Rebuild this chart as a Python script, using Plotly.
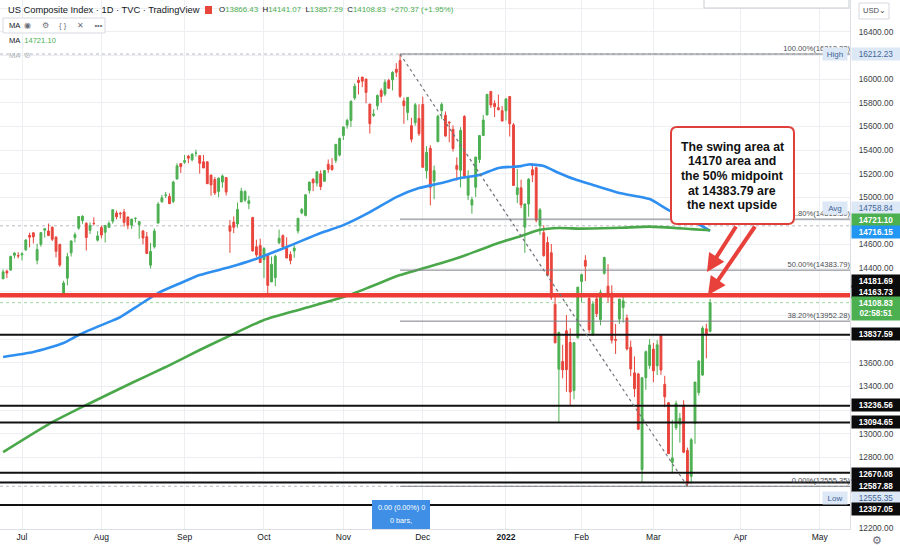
import plotly.graph_objects as go

# ---------------- DATA ----------------
dates = [
    "2021-06-24", "2021-06-25", "2021-06-28", "2021-06-29", "2021-06-30",
    "2021-07-01", "2021-07-02", "2021-07-06", "2021-07-07", "2021-07-08", "2021-07-09",
    "2021-07-12", "2021-07-13", "2021-07-14", "2021-07-15", "2021-07-16",
    "2021-07-19", "2021-07-20", "2021-07-21", "2021-07-22", "2021-07-23",
    "2021-07-26", "2021-07-27", "2021-07-28", "2021-07-29", "2021-07-30",
    "2021-08-02", "2021-08-03", "2021-08-04", "2021-08-05", "2021-08-06",
    "2021-08-09", "2021-08-10", "2021-08-11", "2021-08-12", "2021-08-13",
    "2021-08-16", "2021-08-17", "2021-08-18", "2021-08-19", "2021-08-20",
    "2021-08-23", "2021-08-24", "2021-08-25", "2021-08-26", "2021-08-27",
    "2021-08-30", "2021-08-31",
    "2021-09-01", "2021-09-02", "2021-09-03", "2021-09-07", "2021-09-08",
    "2021-09-09", "2021-09-10", "2021-09-13", "2021-09-14", "2021-09-15",
    "2021-09-16", "2021-09-17", "2021-09-20", "2021-09-21", "2021-09-22",
    "2021-09-23", "2021-09-24", "2021-09-27", "2021-09-28", "2021-09-29", "2021-09-30",
    "2021-10-01", "2021-10-04", "2021-10-05", "2021-10-06", "2021-10-07", "2021-10-08",
    "2021-10-11", "2021-10-12", "2021-10-13", "2021-10-14", "2021-10-15",
    "2021-10-18", "2021-10-19", "2021-10-20", "2021-10-21", "2021-10-22",
    "2021-10-25", "2021-10-26", "2021-10-27", "2021-10-28", "2021-10-29",
    "2021-11-01", "2021-11-02", "2021-11-03", "2021-11-04", "2021-11-05",
    "2021-11-08", "2021-11-09", "2021-11-10", "2021-11-11", "2021-11-12",
    "2021-11-15", "2021-11-16", "2021-11-17", "2021-11-18", "2021-11-19",
    "2021-11-22", "2021-11-23", "2021-11-24", "2021-11-26", "2021-11-29", "2021-11-30",
    "2021-12-01", "2021-12-02", "2021-12-03", "2021-12-06", "2021-12-07",
    "2021-12-08", "2021-12-09", "2021-12-10", "2021-12-13", "2021-12-14",
    "2021-12-15", "2021-12-16", "2021-12-17", "2021-12-20", "2021-12-21",
    "2021-12-22", "2021-12-23", "2021-12-27", "2021-12-28", "2021-12-29",
    "2021-12-30", "2021-12-31",
    "2022-01-03", "2022-01-04", "2022-01-05", "2022-01-06", "2022-01-07",
    "2022-01-10", "2022-01-11", "2022-01-12", "2022-01-13", "2022-01-14",
    "2022-01-18", "2022-01-19", "2022-01-20", "2022-01-21", "2022-01-24",
    "2022-01-25", "2022-01-26", "2022-01-27", "2022-01-28", "2022-01-31",
    "2022-02-01", "2022-02-02", "2022-02-03", "2022-02-04", "2022-02-07",
    "2022-02-08", "2022-02-09", "2022-02-10", "2022-02-11", "2022-02-14",
    "2022-02-15", "2022-02-16", "2022-02-17", "2022-02-18", "2022-02-22",
    "2022-02-23", "2022-02-24", "2022-02-25", "2022-02-28",
    "2022-03-01", "2022-03-02", "2022-03-03", "2022-03-04", "2022-03-07",
    "2022-03-08", "2022-03-09", "2022-03-10", "2022-03-11", "2022-03-14",
    "2022-03-15", "2022-03-16", "2022-03-17", "2022-03-18", "2022-03-21", "2022-03-22",
]

open_ = [
    14311, 14375, 14385, 14510, 14507,
    14513, 14556, 14678, 14700, 14467, 14602, 14722, 14715, 14746, 14663, 14601,
    14190, 14316, 14530, 14659, 14739, 14803, 14780, 14720, 14780, 14637,
    14744, 14704, 14746, 14798, 14867, 14865, 14876, 14834, 14764, 14821,
    14770, 14716, 14666, 14426, 14581, 14782, 14962, 15017, 15007, 14965, 15155, 15285,
    15297, 15348, 15317, 15373, 15352, 15300, 15300, 15188, 15150, 15050,
    15129, 15167, 14758, 14790, 14774, 14961, 14976, 14948, 14829, 14582, 14593,
    14472, 14517, 14284, 14320, 14615, 14676, 14577, 14516, 14546, 14715, 14868,
    14847, 15058, 15153, 15120, 15198, 15136, 15280, 15269, 15312, 15357,
    15522, 15610, 15650, 15840, 15990, 16017, 16001, 15789, 15693, 15774,
    15903, 15873, 15987, 15993, 16084, 16157, 15815, 15718, 15606, 15631, 15667,
    15785, 15224, 15415, 15136, 15470, 15733, 15694, 15637, 15575, 15270,
    15228, 15684, 15018, 14934, 15085, 15319, 15523, 15696, 15895, 15794, 15758, 15733,
    15732, 15853, 15613, 15023, 15080, 14748, 14943, 15233, 15250, 14760,
    14701, 14617, 14531, 14094, 13546, 13611, 13871, 13772, 13365, 13812,
    14287, 14466, 14144, 13836, 14141, 13965, 14357, 14248, 14189, 13798,
    13970, 14068, 13979, 13731, 13515, 13505, 12696, 13474, 13576,
    13716, 13574, 13830, 13418, 13262, 12757, 13051, 13081, 13242, 12859,
    12640, 13086, 13348, 13496, 13887, 13866.43,
]

high = [
    14390, 14389, 14505, 14535, 14535,
    14535, 14645, 14700, 14700, 14607, 14705, 14737, 14778, 14755, 14671, 14608,
    14294, 14530, 14634, 14703, 14841, 14847, 14789, 14788, 14831, 14714,
    14761, 14761, 14797, 14896, 14887, 14877, 14900, 14834, 14816, 14827,
    14800, 14716, 14707, 14614, 14736, 14958, 15020, 15045, 15034, 15140, 15288, 15286,
    15358, 15359, 15375, 15403, 15353, 15358, 15306, 15190, 15171, 15168,
    15193, 15167, 14807, 14838, 14955, 15080, 15060, 15013, 14835, 14641, 14651,
    14578, 14520, 14499, 14515, 14727, 14686, 14662, 14543, 14594, 14825, 14910,
    15028, 15132, 15162, 15216, 15228, 15232, 15320, 15331, 15450, 15505,
    15600, 15665, 15820, 15963, 16018, 16017, 16001, 15789, 15746, 15870,
    15922, 15998, 16003, 16066, 16135, 16212.23, 15843, 15846, 15673, 15798, 15787,
    15851, 15433, 15441, 15269, 15698, 15802, 15726, 15642, 15608, 15338,
    15593, 15695, 15229, 15004, 15341, 15523, 15696, 15871, 15901, 15821, 15869, 15771,
    15833, 15853, 15628, 15239, 15149, 14948, 15162, 15289, 15260, 14910,
    14763, 14667, 14605, 14186, 13864, 13752, 14003, 13892, 13771, 14242,
    14354, 14510, 14169, 14124, 14164, 14218, 14497, 14434, 14255, 13928,
    14139, 14170, 14008, 13788, 13654, 13515, 13474, 13704, 13799,
    13768, 13792, 13837.59, 13490, 13268, 13118, 13279, 13176, 13284, 12883,
    12964, 13437, 13622, 13910, 13931, 14141.07,
]

low = [
    14307, 14316, 14379, 14483, 14484,
    14466, 14546, 14577, 14610, 14433, 14582, 14660, 14671, 14630, 14492, 14412,
    14163.73, 14256, 14499, 14618, 14726, 14776, 14550, 14689, 14761, 14626,
    14652, 14617, 14739, 14777, 14814, 14820, 14752, 14729, 14732, 14787,
    14649, 14601, 14520, 14398, 14566, 14778, 14955, 14994, 14945, 14950, 15150, 15206,
    15283, 15289, 15304, 15345, 15200, 15247, 15114, 15013, 15019, 15001,
    15080, 15015, 14530, 14697, 14743, 14960, 14961, 14900, 14542, 14495, 14447,
    14316, 14181.69, 14284, 14248, 14604, 14579, 14486, 14433, 14488, 14693, 14856,
    14838, 15031, 15052, 15092, 15061, 15134, 15207, 15224, 15290, 15345,
    15485, 15580, 15595, 15822, 15870, 15932, 15796, 15539, 15680, 15740,
    15800, 15855, 15918, 15904, 16018, 15841, 15621, 15651, 15464, 15606, 15519,
    15250, 15158, 14932, 14984, 15468, 15661, 15513, 15465, 15387, 15142,
    15083, 15159, 14976, 14861, 15003, 15290, 15520, 15696, 15756, 15679, 15736, 15644,
    15649, 15514, 15100, 14951, 14908, 14530, 14836, 15129, 14788, 14682,
    14497, 14337, 14132, 13765, 13094.65, 13468, 13355, 13236.56, 13291, 13804,
    14110, 14292, 13852, 13829, 13987, 13917, 14346, 14110, 13763, 13675,
    13929, 13940, 13705, 13486, 13311, 13032, 12587.88, 13372, 13549,
    13436, 13497, 13498, 13225, 12830, 12670.08, 13032, 12925, 12835, 12555.35,
    12578, 12915, 13323, 13490, 13638, 13857.29,
]

close = [
    14369, 14360, 14500, 14528, 14504,
    14522, 14639, 14663, 14665, 14559, 14701, 14733, 14677, 14645, 14543, 14427,
    14275, 14498, 14631, 14684, 14837, 14840, 14660, 14762, 14778, 14673,
    14681, 14761, 14780, 14895, 14835, 14860, 14788, 14765, 14816, 14823,
    14794, 14656, 14525, 14542, 14715, 14943, 14996, 15019, 14946, 15129, 15266, 15259,
    15310, 15331, 15363, 15374, 15287, 15248, 15115, 15105, 15037, 15162,
    15181, 15044, 14713, 14746, 14896, 15052, 15048, 14970, 14546, 14512, 14448,
    14567, 14255, 14433, 14501, 14654, 14580, 14486, 14465, 14571, 14823, 14897,
    15021, 15129, 15122, 15216, 15090, 15226, 15236, 15235, 15448, 15498,
    15595, 15650, 15812, 15940, 15971, 15982, 15887, 15623, 15704, 15861,
    15853, 15973, 15922, 16057, 16057, 15854, 15775, 15845, 15491, 15782, 15538,
    15254, 15381, 15085, 15225, 15686, 15786, 15518, 15630, 15413, 15237,
    15566, 15180, 15169, 14980, 15341, 15522, 15653, 15871, 15781, 15766, 15741, 15645,
    15833, 15622, 15100, 15081, 14936, 14943, 15153, 15188, 14806, 14894,
    14507, 14341, 14155, 13769, 13856, 13540, 13542, 13353, 13771, 14240,
    14346, 14417, 13879, 14098, 14015, 14194, 14491, 14186, 13791, 13791,
    14139, 14124, 13717, 13548, 13381, 13037, 13474, 13694, 13751,
    13532, 13752, 13538, 13313, 12831, 12795, 13256, 13130, 12843, 12581,
    12949, 13437, 13614, 13894, 13838, 14108.83,
]

# moving averages (blue = 100-day, green = 200-day)
ma_blue_dates = [
    "2021-06-24", "2021-07-07", "2021-07-19", "2021-07-23", "2021-08-02", "2021-08-09",
    "2021-08-16", "2021-08-23", "2021-08-31", "2021-09-08", "2021-09-20", "2021-09-28",
    "2021-10-11", "2021-10-22", "2021-11-01", "2021-11-10", "2021-11-19", "2021-11-30",
    "2021-12-08", "2021-12-15", "2021-12-22", "2021-12-30", "2022-01-07", "2022-01-11",
    "2022-01-18", "2022-01-24", "2022-01-28", "2022-02-04", "2022-02-15", "2022-02-28",
    "2022-03-07", "2022-03-15", "2022-03-22",
]
ma_blue = [
    13649, 13691, 13767, 13835, 13919, 13987,
    14089, 14190, 14275, 14342, 14410, 14469,
    14579, 14698, 14765, 14875, 15002, 15078,
    15121, 15163, 15188, 15248, 15264, 15278,
    15264, 15205, 15154, 15104, 15036, 14985,
    14892, 14808, 14716.15,
]
ma_green_dates = [
    "2021-06-24", "2021-07-13", "2021-07-27", "2021-08-12", "2021-08-25", "2021-09-08",
    "2021-09-20", "2021-10-01", "2021-10-15", "2021-11-01", "2021-11-10", "2021-11-22",
    "2021-12-08", "2021-12-15", "2021-12-22", "2021-12-30", "2022-01-07", "2022-01-14",
    "2022-01-24", "2022-02-01", "2022-02-15", "2022-02-28", "2022-03-15", "2022-03-22",
]
ma_green = [
    12845, 13080, 13243, 13429, 13564, 13708,
    13830, 13962, 14055, 14156, 14241, 14342,
    14444, 14495, 14554, 14613, 14672, 14725,
    14740, 14735, 14742, 14752, 14731, 14721.10,
]

key_levels = [13837.59, 13236.56, 13094.65, 12670.08, 12587.88, 12397.05]
swing_level = 14172
fib_high_date, fib_low_date = "2021-11-22", "2022-03-14"
fib_high, fib_low = 16212.23, 12555.35
fib_pcts = [100.0, 61.8, 50.0, 38.2, 0.0]
avg_level = 14758.84
last_close = 14108.83

holidays = ["2021-07-05", "2021-09-06", "2021-11-25", "2021-12-24", "2022-01-17", "2022-02-21"]
month_ticks = ["2021-07-01", "2021-08-02", "2021-09-01", "2021-10-01", "2021-11-01", "2021-12-01",
               "2022-01-03", "2022-02-01", "2022-03-01", "2022-04-01", "2022-05-02"]
month_labels = ["Jul", "Aug", "Sep", "Oct", "Nov", "Dec", "<b>2022</b>", "Feb", "Mar", "Apr", "May"]
y_ticks = [12200, 12400, 12600, 12800, 13000, 13200, 13400, 13600, 13800, 14000, 14200, 14400,
           14600, 14800, 15000, 15200, 15400, 15600, 15800, 16000, 16200, 16400, 16600]
y_tick_labels = ["12200.00", "", "", "12800.00", "13000.00", "", "13400.00", "13600.00", "", "", "",
                 "14400.00", "14600.00", "", "15000.00", "15200.00", "15400.00", "15600.00",
                 "15800.00", "16000.00", "", "16400.00", ""]
x_range = ["2021-06-23 04:20", "2022-05-12"]
y_range = [12194, 16669]

# ---------------- STYLE ----------------
FONT = "Liberation Sans"
TXT = "#131722"
GREEN = "#4caf50"
RED_C = "#e8453c"
BLUE = "#2e8ff0"
RED = "#ef3b36"
GRID = "#eceef2"
W, H = 900, 552
ML, MR, MT, MB = 0, 50, 0, 23
PW, PH = W - ML - MR, H - MT - MB


def fx(p):
    return p / PW


def fy(p):
    return 1 - p / PH


fig = go.Figure()

fig.add_trace(go.Candlestick(
    x=dates, open=open_, high=high, low=low, close=close,
    increasing=dict(line=dict(color=GREEN, width=1), fillcolor=GREEN),
    decreasing=dict(line=dict(color=RED_C, width=1), fillcolor=RED_C),
    whiskerwidth=0, hoverinfo="skip", showlegend=False,
))
fig.add_trace(go.Scatter(x=ma_blue_dates, y=ma_blue, mode="lines",
                         line=dict(color=BLUE, width=2.6, shape="spline", smoothing=0.6),
                         hoverinfo="skip", showlegend=False))
fig.add_trace(go.Scatter(x=ma_green_dates, y=ma_green, mode="lines",
                         line=dict(color="#4aa84a", width=2.6, shape="spline", smoothing=0.6),
                         hoverinfo="skip", showlegend=False))

shapes = []
# dotted marker lines
for lvl, col in [(fib_high, "#b7bac2"), (avg_level, "#b7bac2"), (fib_low, "#b7bac2"), (last_close, "#9fd3a2")]:
    shapes.append(dict(type="line", xref="paper", x0=0, x1=1, yref="y", y0=lvl, y1=lvl,
                       line=dict(color=col, width=1, dash="dot"), layer="below"))
# black horizontal levels
for lvl in key_levels:
    shapes.append(dict(type="line", xref="paper", x0=0, x1=1, yref="y", y0=lvl, y1=lvl,
                       line=dict(color="#111111", width=2)))
# red swing line
shapes.append(dict(type="line", xref="paper", x0=0, x1=1, yref="y", y0=swing_level, y1=swing_level,
                   line=dict(color=RED, width=4.5)))
# fib retracement levels
for pct in fib_pcts:
    lvl = fib_low + pct / 100 * (fib_high - fib_low)
    shapes.append(dict(type="line", xref="x", x0=fib_high_date, x1=x_range[1], yref="y", y0=lvl, y1=lvl,
                       line=dict(color="#7d7f86", width=1),
                       label=dict(text=f"{pct:.2f}%({lvl:.2f})", textposition="end", xanchor="right",
                                  yanchor="bottom", padding=2,
                                  font=dict(size=7.6, color="#4a4c52", family=FONT))))
# diagonal trend line
shapes.append(dict(type="line", xref="x", yref="y", x0=fib_high_date, y0=fib_high, x1=fib_low_date, y1=fib_low,
                   line=dict(color="#6f727a", width=1.2, dash="3px,3px")))
# measure box at bottom
shapes.append(dict(type="rect", xref="paper", yref="paper", x0=fx(372), x1=fx(430), y0=fy(529), y1=fy(500),
                   fillcolor="#3f8fe6", line=dict(width=0)))
# rounded callout box
bx0, bx1, by0, by1, r = 671, 794, 127, 224, 6
path = (f"M {fx(bx0 + r)},{fy(by0)} L {fx(bx1 - r)},{fy(by0)} Q {fx(bx1)},{fy(by0)} {fx(bx1)},{fy(by0 + r)} "
        f"L {fx(bx1)},{fy(by1 - r)} Q {fx(bx1)},{fy(by1)} {fx(bx1 - r)},{fy(by1)} "
        f"L {fx(bx0 + r)},{fy(by1)} Q {fx(bx0)},{fy(by1)} {fx(bx0)},{fy(by1 - r)} "
        f"L {fx(bx0)},{fy(by0 + r)} Q {fx(bx0)},{fy(by0)} {fx(bx0 + r)},{fy(by0)} Z")
shapes.append(dict(type="path", xref="paper", yref="paper", path=path, fillcolor="white",
                   line=dict(color="#e0403a", width=2)))
# header toolbar box, flag, top-right popup, USD box
shapes.append(dict(type="rect", xref="paper", yref="paper", x0=fx(3), x1=fx(105), y0=fy(33), y1=fy(18),
                   fillcolor="white", line=dict(color="#d6d9e0", width=1)))
shapes.append(dict(type="rect", xref="paper", yref="paper", x0=fx(205), x1=fx(212), y0=fy(14), y1=fy(6),
                   fillcolor="#e8453c", line=dict(width=0)))
shapes.append(dict(type="rect", xref="paper", yref="paper", x0=fx(704), x1=fx(849), y0=fy(8), y1=fy(-3),
                   fillcolor="white", line=dict(color="#c9ccd3", width=1)))
shapes.append(dict(type="rect", xref="paper", yref="paper", x0=fx(859), x1=fx(889), y0=fy(19), y1=fy(3),
                   fillcolor="white", line=dict(color="#d6d9e0", width=1)))

ann = []


def txt(x, y, text, size=8.5, color=TXT, xanchor="left", bold=False):
    ann.append(dict(xref="paper", yref="paper", x=fx(x), y=fy(y), text=(f"<b>{text}</b>" if bold else text),
                    showarrow=False, xanchor=xanchor, yanchor="middle",
                    font=dict(size=size, color=color, family=FONT)))


# header
txt(6, 10, "US Composite Index · 1D · TVC · TradingView", size=9.3)
g = lambda v: f'<span style="color:{GREEN}">{v}</span>'
txt(217, 10, f"O{g('13866.43')}  H{g('14141.07')}  L{g('13857.29')}  C{g('14108.83')}  {g('+270.37 (+1.95%)')}",
    size=7.9)
txt(7, 25.5, "MA", size=7.6)
txt(22, 25.5, "◉     ⚙     { }     ✕     •••", size=7.6, color="#6a6d78")
txt(7, 40, f"MA  {g('14721.10')}", size=7.6)
txt(7, 55, "MA  ⊘", size=7.6, color="#b0b3bb")
txt(874, 11, "USD⌄", size=7.6, color="#4a4c52", xanchor="center")

# right axis value labels
def axis_label(text, y, bg, fg, h=10, bold=True):
    ann.append(dict(xref="paper", yref="paper", x=1, y=fy(y), xanchor="left", yanchor="middle",
                    text=(f"<b>{text}</b>" if bold else text), showarrow=False, bgcolor=bg,
                    font=dict(size=8.2, color=fg, family=FONT), width=46, height=h, borderpad=1,
                    align="center", xshift=1))


def tag(text, y):
    ann.append(dict(xref="paper", yref="paper", x=fx(848), y=fy(y), xanchor="right", yanchor="middle",
                    text=text, showarrow=False, bgcolor="#dde8f6",
                    font=dict(size=8, color="#3f6596", family=FONT), width=22, height=10, borderpad=1))


LB, LF = "#dde8f6", "#3f6596"
axis_label("16212.23", 54, LB, LF, bold=False)
tag("High", 54)
axis_label("14758.84", 208, LB, LF, bold=False)
tag("Avg", 208)
axis_label("14721.10", 220, GREEN, "white")
axis_label("14716.15", 232, "#2196f3", "white")
axis_label("14181.69", 281, "#0b0b0b", "white")
axis_label("14163.73", 292, "#0b0b0b", "white")
axis_label("14108.83<br>02:58:51", 308, GREEN, "white", h=21)
axis_label("13837.59", 334, "#0b0b0b", "white")
axis_label("13236.56", 405, "#0b0b0b", "white")
axis_label("13094.65", 422, "#0b0b0b", "white")
axis_label("12670.08", 474, "#0b0b0b", "white")
axis_label("12587.88", 486, "#0b0b0b", "white")
axis_label("12555.35", 498, LB, LF, bold=False)
tag("Low", 498)
axis_label("12397.05", 509, "#0b0b0b", "white")

# callout text
lines = ["The swing area at", "14170 area and", "the 50% midpoint", "at 14383.79 are", "the next upside"]
for i, line in enumerate(lines):
    txt(732, 147 + i * 14.5, line, size=12.3, color="#111111", xanchor="center", bold=True)

# arrows
for hx, hy, ax, ay in [(707, 272, 30, -47), (708, 295, 48, -70)]:
    ann.append(dict(xref="paper", yref="paper", x=fx(hx), y=fy(hy), ax=ax, ay=ay, text="",
                    showarrow=True, arrowhead=2, arrowsize=0.9, arrowwidth=4, arrowcolor="#e8403a",
                    standoff=0))

# measure box text
txt(401, 507.5, "0.00 (0.00%) 0", size=7.2, color="white", xanchor="center")
txt(401, 520.5, "0 bars,", size=7.2, color="white", xanchor="center")
# gear icon
txt(877, 540, "⚙", size=11, color="#6a6d78", xanchor="center")

fig.update_layout(
    width=W, height=H, margin=dict(l=ML, r=MR, t=MT, b=MB),
    paper_bgcolor="white", plot_bgcolor="white", showlegend=False, hovermode=False,
    shapes=shapes, annotations=ann, font=dict(family=FONT, color=TXT),
    xaxis=dict(type="date", range=x_range, rangeslider=dict(visible=False),
               rangebreaks=[dict(bounds=["sat", "mon"]), dict(values=holidays)],
               tickvals=month_ticks, ticktext=month_labels, tickfont=dict(size=8.5, color=TXT),
               showgrid=True, gridcolor=GRID, gridwidth=1, zeroline=False,
               showline=True, linecolor="#dcdfe5", linewidth=1, ticks="", fixedrange=True),
    yaxis=dict(side="right", range=y_range, tickvals=y_ticks, ticktext=y_tick_labels,
               tickfont=dict(size=8.3, color="#3c3e44"), showgrid=True, gridcolor=GRID, gridwidth=1,
               zeroline=False, showline=True, linecolor="#dcdfe5", linewidth=1, ticks="",
               ticklabelstandoff=6, fixedrange=True),
)

fig.write_html("out.html", config={"displayModeBar": False},
               post_script="document.body.style.margin='0';document.body.style.overflow='hidden';")
